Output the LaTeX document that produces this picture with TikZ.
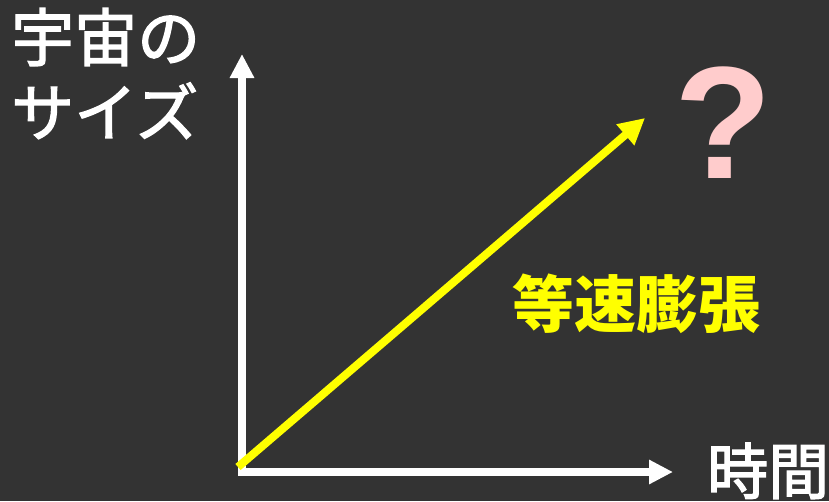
\documentclass[tikz,border=0pt]{standalone}
\usepackage{fontspec}
\newfontfamily\jp{Noto Sans CJK JP}
\newfontfamily\qfont{Liberation Sans}
\usetikzlibrary{arrows.meta}
\definecolor{bg}{HTML}{333333}
\definecolor{qpink}{HTML}{FFCCCC}
\definecolor{yel}{HTML}{FFFF00}
\newcommand\heavytext[1]{\special{pdf:literal direct 2 Tr 1.3 w}#1\special{pdf:literal direct 0 Tr}}
\begin{document}
\begin{tikzpicture}[x=1pt,y=-1pt,
  axis/.style={draw=white,line width=8pt,-{Triangle[length=24pt,width=23pt]}},
  growth/.style={draw=yel,line width=8pt,-{Triangle[length=26pt,width=26pt]}},
  lbl/.style={text=white,font=\jp\fontsize{63}{63}\selectfont,inner sep=0pt,anchor=base west}]
\fill[bg] (0,0) rectangle (829,501);
\useasboundingbox (0,0) rectangle (829,501);
\coordinate (ytop) at (242,54);
\coordinate (ybot) at (242,476);
\coordinate (xstart) at (238,472);
\coordinate (xend) at (673,472);
\coordinate (ostart) at (238,467);
\coordinate (gend) at (645,118);
\draw[axis] (ybot) -- (ytop);
\draw[axis] (xstart) -- (xend);
\draw[growth] (ostart) -- (gend);
\node[lbl] (ylabel1) at (11,61) {\heavytext{宇宙の}};
\node[lbl] (ylabel2) at (11,136) {\heavytext{サイズ}};
\node[lbl,font=\jp\fontsize{61}{61}\selectfont] (xlabel) at (707,494) {\heavytext{時間}};
\node[text=yel,font=\jp\bfseries\fontsize{62}{62}\selectfont,inner sep=0pt,anchor=base west] (eq) at (512,327) {等速膨張};
\node[text=qpink,font=\qfont\bfseries\fontsize{160}{160}\selectfont,inner sep=0pt,anchor=base] (q) at (723,178) {?};
\end{tikzpicture}
\end{document}
